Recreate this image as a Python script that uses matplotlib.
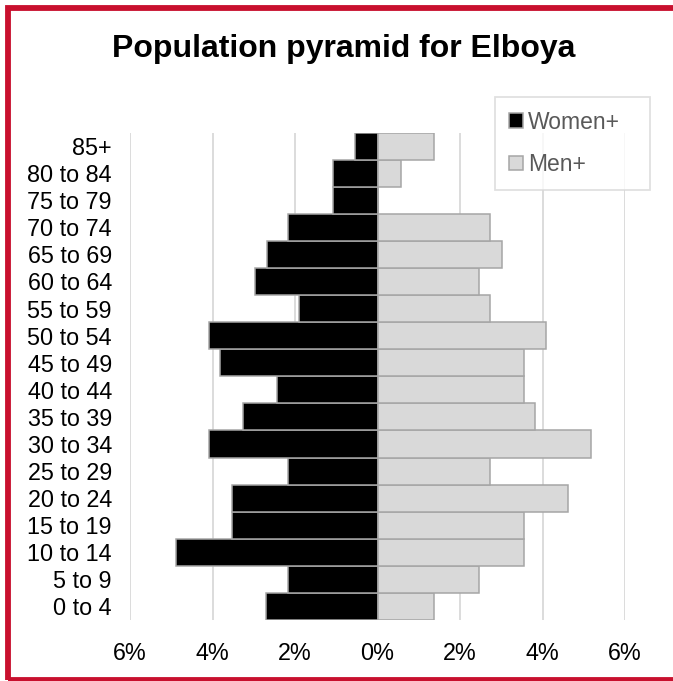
import matplotlib
matplotlib.use("Agg")
import matplotlib.pyplot as plt
from matplotlib.patches import Rectangle
from matplotlib.ticker import FuncFormatter

age_groups = ["0 to 4", "5 to 9", "10 to 14", "15 to 19", "20 to 24", "25 to 29",
              "30 to 34", "35 to 39", "40 to 44", "45 to 49", "50 to 54", "55 to 59",
              "60 to 64", "65 to 69", "70 to 74", "75 to 79", "80 to 84", "85+"]
women_pct = [2.71, 2.17, 4.89, 3.53, 3.53, 2.17, 4.08, 3.25, 2.44, 3.81, 4.08, 1.90,
             2.97, 2.69, 2.16, 1.08, 1.08, 0.54]
men_pct = [1.37, 2.46, 3.54, 3.54, 4.63, 2.73, 5.18, 3.82, 3.54, 3.54, 4.09, 2.73,
           2.46, 3.01, 2.73, 0.0, 0.56, 1.37]
x_ticks = [-6, -4, -2, 0, 2, 4, 6]
title = "Population pyramid for Elboya"
series_names = ["Women+", "Men+"]

W, H = 673, 681
fig = plt.figure(figsize=(W / 100, H / 100), dpi=100)
plt.rcParams['font.family'] = ['Liberation Sans', 'DejaVu Sans']

ax = fig.add_axes([130 / W, (H - 620) / H, (625 - 130) / W, (620 - 132.5) / H])

y = list(range(len(age_groups)))
edge = '#a6a6a6'
ax.barh(y, [-v for v in women_pct], height=1.0, color='black', edgecolor=edge,
        linewidth=1.1, label=series_names[0], zorder=3)
ax.barh(y, men_pct, height=1.0, color='#d9d9d9', edgecolor=edge,
        linewidth=1.1, label=series_names[1], zorder=3)

ax.set_xlim(-6, 6)
ax.set_ylim(-0.5, len(age_groups) - 0.5)
ax.set_xticks(x_ticks)
ax.xaxis.set_major_formatter(FuncFormatter(lambda v, p: f"{abs(v):.0f}%"))
ax.set_yticks(y)
ax.set_yticklabels(age_groups)
ax.tick_params(axis='both', length=0, labelsize=16.8, colors='black')
ax.tick_params(axis='x', pad=16)
ax.tick_params(axis='y', pad=13)
ax.grid(axis='x', color='#d9d9d9', linewidth=1.3, zorder=0)
ax.set_axisbelow(True)
for s in ax.spines.values():
    s.set_visible(False)

fig.text(343.5 / W, 1 - 49 / H, title, ha='center', va='center',
         fontsize=23, fontweight='bold', color='black')

leg = fig.legend(loc='upper left', bbox_to_anchor=(495 / W, 1 - 97 / H - 0.01, 155 / W, 0.01),
                 mode='expand', frameon=True, fancybox=False, fontsize=16.5,
                 handlelength=0.6, handleheight=0.6, handletextpad=0.25,
                 labelspacing=0.85, borderpad=0.6, borderaxespad=0)
leg.get_frame().set_edgecolor('#d9d9d9')
leg.get_frame().set_linewidth(1.3)
for t in leg.get_texts():
    t.set_color('#595959')

red = '#C8102E'
fig.patches.append(Rectangle((8.3, 1.5), 700, 671.5, transform=None, fill=False,
                             edgecolor=red, linewidth=4.2, figure=fig))

fig.savefig("out.png", dpi=100)
